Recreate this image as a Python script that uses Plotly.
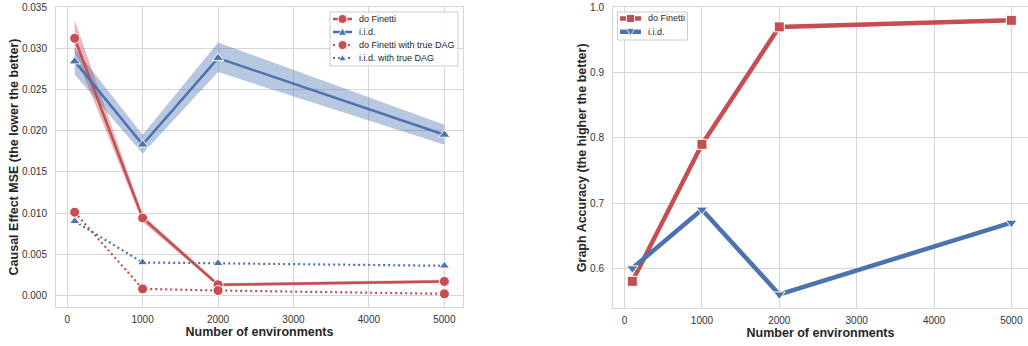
import plotly.graph_objects as go

# ---------------- data ----------------
env = [100, 1000, 2000, 5000]

# Left panel: Causal effect MSE
mse_dofinetti = [0.0312, 0.0094, 0.0013, 0.0017]
mse_dofinetti_lo = [0.0294, 0.0089, 0.0011, 0.0015]
mse_dofinetti_hi = [0.0334, 0.0098, 0.0015, 0.0019]
mse_iid = [0.0284, 0.0183, 0.0288, 0.0195]
mse_iid_lo = [0.0268, 0.0172, 0.0271, 0.0183]
mse_iid_hi = [0.0300, 0.0195, 0.0307, 0.0207]
mse_dofinetti_dag = [0.0101, 0.0008, 0.0006, 0.0002]
mse_iid_dag = [0.0090, 0.0040, 0.0039, 0.0036]

# Right panel: Graph accuracy
acc_dofinetti = [0.58, 0.79, 0.97, 0.98]
acc_iid = [0.60, 0.69, 0.56, 0.67]

mse_ticks = [0.000, 0.005, 0.010, 0.015, 0.020, 0.025, 0.030, 0.035]
acc_ticks = [0.6, 0.7, 0.8, 0.9, 1.0]
x_ticks = [0, 1000, 2000, 3000, 4000, 5000]

left_legend_names = ["do Finetti", "i.i.d.", "do Finetti with true DAG", "i.i.d. with true DAG"]
right_legend_names = ["do Finetti", "i.i.d."]

RED = "#C44E52"
BLUE = "#4C72B0"
RED_BAND = "rgba(196,78,82,0.4)"
BLUE_BAND = "rgba(76,114,176,0.4)"
FONT = "Liberation Sans, Arial, sans-serif"
W, H = 1028, 346

fig = go.Figure()

# confidence bands
fig.add_trace(go.Scatter(x=env + env[::-1], y=mse_dofinetti_hi + mse_dofinetti_lo[::-1],
                         fill="toself", fillcolor=RED_BAND, line=dict(width=0),
                         mode="lines", showlegend=False, hoverinfo="skip", xaxis="x", yaxis="y"))
fig.add_trace(go.Scatter(x=env + env[::-1], y=mse_iid_hi + mse_iid_lo[::-1],
                         fill="toself", fillcolor=BLUE_BAND, line=dict(width=0),
                         mode="lines", showlegend=False, hoverinfo="skip", xaxis="x", yaxis="y"))

mk_edge = dict(color="white", width=1)
DOT = "2px,3px"
fig.add_trace(go.Scatter(x=env, y=mse_dofinetti, name=left_legend_names[0], mode="lines+markers",
                         line=dict(color=RED, width=2.5),
                         marker=dict(symbol="circle", size=10, color=RED, line=mk_edge),
                         showlegend=False, xaxis="x", yaxis="y"))
fig.add_trace(go.Scatter(x=env, y=mse_iid, name=left_legend_names[1], mode="lines+markers",
                         line=dict(color=BLUE, width=2.5),
                         marker=dict(symbol="triangle-up", size=10, color=BLUE, line=mk_edge),
                         showlegend=False, xaxis="x", yaxis="y"))
fig.add_trace(go.Scatter(x=env, y=mse_dofinetti_dag, name=left_legend_names[2], mode="lines+markers",
                         line=dict(color=RED, width=2.2, dash=DOT),
                         marker=dict(symbol="circle", size=10, color=RED, line=mk_edge),
                         showlegend=False, xaxis="x", yaxis="y"))
fig.add_trace(go.Scatter(x=env, y=mse_iid_dag, name=left_legend_names[3], mode="lines+markers",
                         line=dict(color=BLUE, width=2.2, dash=DOT),
                         marker=dict(symbol="triangle-up", size=9, color=BLUE, line=mk_edge),
                         showlegend=False, xaxis="x", yaxis="y"))

# right panel
fig.add_trace(go.Scatter(x=env, y=acc_dofinetti, name=right_legend_names[0], mode="lines+markers",
                         line=dict(color=RED, width=4.5),
                         marker=dict(symbol="square", size=10, color=RED, line=mk_edge),
                         showlegend=False, xaxis="x2", yaxis="y2"))
fig.add_trace(go.Scatter(x=env, y=acc_iid, name=right_legend_names[1], mode="lines+markers",
                         line=dict(color=BLUE, width=4.5),
                         marker=dict(symbol="triangle-down", size=10, color=BLUE, line=mk_edge),
                         showlegend=False, xaxis="x2", yaxis="y2"))

grid = "#d6d6d6"
axis_common = dict(showgrid=True, gridcolor=grid, gridwidth=1, zeroline=False,
                   showline=True, linecolor=grid, linewidth=1, mirror=True, ticks="",
                   automargin=False,
                   tickfont=dict(family=FONT, size=10, color="#333333"))
title_font = dict(family=FONT, size=12.5, color="#262626")


def px(x):
    return x / W


def py(y):
    return 1 - y / H


# ---------- custom legends (drawn with shapes + text) ----------
shapes = []
annotations = []


def legend_box(x0, y0, x1, y1):
    shapes.append(dict(type="rect", xref="paper", yref="paper",
                       x0=px(x0), x1=px(x1), y0=py(y1), y1=py(y0),
                       line=dict(color="#cccccc", width=1), fillcolor="rgba(255,255,255,0.85)",
                       layer="above"))


def legend_entry(xl0, xl1, yc, color, width, dash, symbol, msize, text, xt):
    shapes.append(dict(type="line", xref="paper", yref="paper",
                       x0=px(xl0), x1=px(xl1), y0=py(yc), y1=py(yc),
                       line=dict(color=color, width=width, dash=dash), layer="above"))
    xc = (xl0 + xl1) / 2
    r = msize / 2
    if symbol == "circle":
        shapes.append(dict(type="circle", xref="paper", yref="paper",
                           x0=px(xc - r), x1=px(xc + r), y0=py(yc + r), y1=py(yc - r),
                           fillcolor=color, line=dict(color="white", width=1), layer="above"))
    elif symbol == "square":
        shapes.append(dict(type="rect", xref="paper", yref="paper",
                           x0=px(xc - r), x1=px(xc + r), y0=py(yc + r), y1=py(yc - r),
                           fillcolor=color, line=dict(color="white", width=1), layer="above"))
    elif symbol == "triangle-up":
        path = "M {} {} L {} {} L {} {} Z".format(px(xc), py(yc - r), px(xc - r), py(yc + r * 0.8),
                                                px(xc + r), py(yc + r * 0.8))
        shapes.append(dict(type="path", xref="paper", yref="paper", path=path,
                           fillcolor=color, line=dict(color="white", width=0.8), layer="above"))
    elif symbol == "triangle-down":
        path = "M {} {} L {} {} L {} {} Z".format(px(xc), py(yc + r), px(xc - r), py(yc - r * 0.8),
                                                px(xc + r), py(yc - r * 0.8))
        shapes.append(dict(type="path", xref="paper", yref="paper", path=path,
                           fillcolor=color, line=dict(color="white", width=0.8), layer="above"))
    annotations.append(dict(xref="paper", yref="paper", x=px(xt), y=py(yc), text=text,
                            showarrow=False, xanchor="left", yanchor="middle",
                            font=dict(family=FONT, size=9, color="#262626")))


legend_box(330, 12, 458, 66)
left_styles = [(RED, 2.5, "solid", "circle", 9), (BLUE, 2.5, "solid", "triangle-up", 8),
               (RED, 2.2, DOT, "circle", 9), (BLUE, 2.2, DOT, "triangle-up", 7)]
for i, (name, st) in enumerate(zip(left_legend_names, left_styles)):
    legend_entry(333, 352, 19 + i * 13, st[0], st[1], st[2], st[3], st[4], name, 357)

legend_box(617.5, 12, 687.5, 40)
right_styles = [(RED, 4.5, "solid", "square", 8), (BLUE, 4.5, "solid", "triangle-down", 8)]
for i, (name, st) in enumerate(zip(right_legend_names, right_styles)):
    legend_entry(620, 641, 18.5 + i * 13.3, st[0], st[1], st[2], st[3], st[4], name, 646)

fig.update_layout(
    width=W, height=H,
    margin=dict(l=0, r=0, t=0, b=0),
    paper_bgcolor="white", plot_bgcolor="white",
    font=dict(family=FONT, color="#262626"),
    showlegend=False,
    xaxis=dict(domain=[56 / W, 463 / W], range=[-148, 5247], tickvals=x_ticks,
               ticklabelstandoff=3,
               title=dict(text="<b>Number of environments</b>", font=title_font, standoff=2),
               anchor="y", **axis_common),
    yaxis=dict(domain=[1 - 307 / H, 1 - 7 / H], range=[-0.0014, 0.035], tickvals=mse_ticks,
               tickformat=".3f", ticklabelstandoff=6,
               title=dict(text="<b>Causal Effect MSE (the lower the better)</b>", font=title_font, standoff=0),
               anchor="x", **axis_common),
    xaxis2=dict(domain=[613 / W, 1.0], range=[-150, 5215], tickvals=x_ticks,
                ticklabelstandoff=3,
                title=dict(text="<b>Number of environments</b>", font=title_font, standoff=2),
                anchor="y2", **axis_common),
    yaxis2=dict(domain=[1 - 308.3 / H, 1 - 7.3 / H], range=[0.5387, 1.0], tickvals=acc_ticks,
                tickformat=".1f", ticklabelstandoff=6,
                title=dict(text="<b>Graph Accuracy (the higher the better)</b>", font=title_font, standoff=0),
                anchor="x2", **axis_common),
    shapes=shapes,
    annotations=annotations,
)

fig.write_html("out.html", config={"displayModeBar": False},
               post_script="document.body.style.margin='0px';document.body.style.overflow='hidden';")
